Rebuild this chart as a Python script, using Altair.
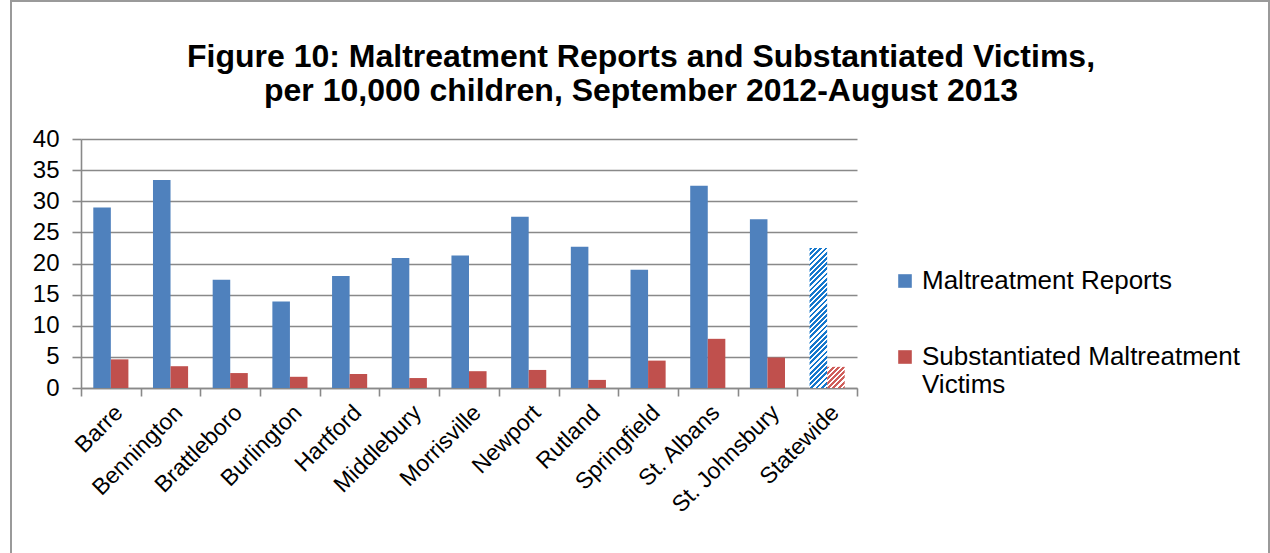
import altair as alt
import pandas as pd

categories = ["Barre", "Bennington", "Brattleboro", "Burlington", "Hartford",
              "Middlebury", "Morrisville", "Newport", "Rutland", "Springfield",
              "St. Albans", "St. Johnsbury", "Statewide"]
reports = [29.0, 33.4, 17.4, 13.9, 18.0, 20.9, 21.3, 27.5, 22.7, 19.0, 32.5, 27.1, 22.5]
victims = [4.6, 3.5, 2.4, 1.8, 2.25, 1.6, 2.7, 2.9, 1.3, 4.4, 7.9, 4.9, 3.4]
series = ["Maltreatment Reports", "Substantiated Maltreatment Victims"]
colors = ["#4F81BD", "#C0504D"]
hatch_colors = ["#1577CC", "#CF5E5A"]
y_ticks = [0, 5, 10, 15, 20, 25, 30, 35, 40]
title_lines = ["Figure 10: Maltreatment Reports and Substantiated Victims,",
               "per 10,000 children, September 2012-August 2013"]
hatched = "Statewide"

# layout (pixels)
W, H = 776, 249
LEFT, TOP = 81, 139
YMAX = 40
OUTER = 0.7
BAR_W = (W / len(categories)) / (2 + 2 * OUTER)
FONT = "Liberation Sans"
GRID = "#898989"

rows = []
for c, r, v in zip(categories, reports, victims):
    rows.append({"category": c, "series": series[0], "value": r})
    rows.append({"category": c, "series": series[1], "value": v})
df = pd.DataFrame(rows)


def stripes(color, value, period=5.2):
    """Diagonal '/' stripes as a hard-stop linear gradient in bbox units."""
    h = value / YMAX * H
    r = BAR_W / h
    k = (1 + r) / (1 + r * r)
    n = (BAR_W + h) / period
    stops = []
    j = 0
    while j / n < 1:
        a = j / n
        b = min((j + 0.55) / n, 1)
        c = min((j + 1) / n, 1)
        stops += [alt.GradientStop(offset=a, color=color),
                  alt.GradientStop(offset=b, color=color),
                  alt.GradientStop(offset=b, color="white"),
                  alt.GradientStop(offset=c, color="white")]
        j += 1
    return alt.LinearGradient(gradient="linear", stops=stops,
                              x1=0, y1=0, x2=k * r, y2=k)


x_enc = alt.X("category:N", sort=categories,
              scale=alt.Scale(domain=categories, paddingInner=0, paddingOuter=0),
              axis=alt.Axis(title=None, labelAngle=-45, labelFontSize=23,
                            labelFont=FONT, labelColor="black", tickBand="extent",
                            tickSize=8, labelPadding=5, grid=False,
                            labelAlign="right", labelBaseline="top"))
xo_enc = alt.XOffset("series:N",
                     scale=alt.Scale(domain=series, paddingInner=0, paddingOuter=OUTER))
y_enc = alt.Y("value:Q", scale=alt.Scale(domain=[0, YMAX], nice=False),
              axis=alt.Axis(title=None, values=y_ticks, labelFontSize=24,
                            labelFont=FONT, labelColor="black", tickSize=9,
                            labelPadding=13, grid=True))

base = alt.Chart(df)

bars = base.transform_filter(alt.datum.category != hatched).mark_bar().encode(
    x=x_enc, xOffset=xo_enc, y=y_enc,
    color=alt.Color("series:N", scale=alt.Scale(domain=series, range=colors),
                    legend=alt.Legend(orient="none", legendX=811, legendY=129,
                                      title=None, labelFontSize=26, labelFont=FONT,
                                      labelColor="black", symbolType="square",
                                      symbolSize=185, symbolStrokeWidth=0,
                                      labelLimit=500, padding=0, rowPadding=50,
                                      labelOffset=4,
                                      labelExpr="datum.label == 'Substantiated Maltreatment Victims' ? ['Substantiated Maltreatment', 'Victims'] : datum.label")),
)

hatch_layers = []
for s, hc, vals in zip(series, hatch_colors, [reports, victims]):
    v = vals[categories.index(hatched)]
    hatch_layers.append(
        base.transform_filter((alt.datum.category == hatched) & (alt.datum.series == s))
        .mark_bar(color=stripes(hc, v))
        .encode(x=x_enc, xOffset=xo_enc, y=y_enc)
    )

frame = alt.Chart(alt.Data(values=[{"f": 1}])).mark_rect(
    fill="transparent", stroke="#9A9A9A", strokeWidth=2
).encode(
    x=alt.value(11 - LEFT), x2=alt.value(1269 - LEFT),
    y=alt.value(1 - TOP), y2=alt.value(600 - TOP),
)

chart = alt.layer(frame, bars, *hatch_layers).properties(
    width=W, height=H,
    autosize=alt.AutoSizeParams(type="none"),
    padding={"left": LEFT, "top": TOP, "right": 1270 - LEFT - W, "bottom": 553 - TOP - H},
    title=alt.TitleParams(text=title_lines, font=FONT, fontSize=32, fontWeight="bold",
                          color="black", anchor="middle", frame="group", dx=172,
                          offset=-108, lineHeight=34),
    background="white",
).configure_view(stroke=None).configure_axis(
    gridColor=GRID, gridWidth=1.6, domainColor=GRID, domainWidth=1.6,
    tickColor=GRID, tickWidth=1.6,
)

chart.save("out.html", embed_options={"renderer": "svg", "actions": False})
